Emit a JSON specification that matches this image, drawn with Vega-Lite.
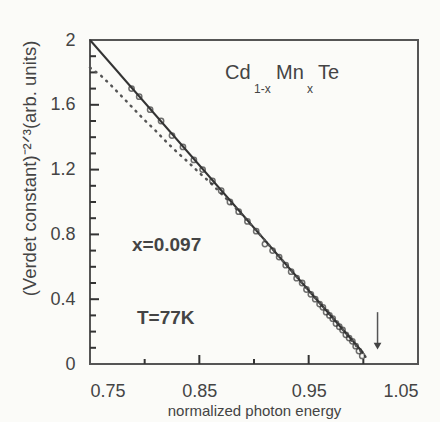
{
  "$schema": "https://vega.github.io/schema/vega-lite/v6.json",
  "autosize": "none",
  "width": 328,
  "height": 324,
  "padding": {"left": 90, "top": 40, "right": 22, "bottom": 58},
  "background": "#fbfbf8",
  "config": {
    "font": "Liberation Sans",
    "view": {"stroke": "#555", "strokeWidth": 2},
    "axis": {"domain": false, "ticks": false, "labelColor": "#444", "titleColor": "#444", "labelFontSize": 18, "titleFontSize": 15, "titleFontWeight": "normal", "grid": false}
  },
  "datasets": {
    "solid": [{"x": 0.75, "y": 2.0}, {"x": 1.0, "y": 0.068}],
    "dotted": [
      {"x": 0.75, "y": 1.83}, {"x": 0.76, "y": 1.78}, {"x": 0.77, "y": 1.715}, {"x": 0.78, "y": 1.645},
      {"x": 0.79, "y": 1.575}, {"x": 0.80, "y": 1.505}, {"x": 0.81, "y": 1.44}, {"x": 0.82, "y": 1.37},
      {"x": 0.83, "y": 1.305}, {"x": 0.84, "y": 1.245}, {"x": 0.85, "y": 1.18}, {"x": 0.86, "y": 1.12},
      {"x": 0.87, "y": 1.052}, {"x": 0.88, "y": 0.985}, {"x": 0.89, "y": 0.913}, {"x": 0.90, "y": 0.84},
      {"x": 0.92, "y": 0.686}, {"x": 0.94, "y": 0.531}, {"x": 0.96, "y": 0.377}, {"x": 0.98, "y": 0.222},
      {"x": 0.99, "y": 0.14}, {"x": 1.0, "y": 0.06}, {"x": 1.005, "y": 0.02}
    ],
    "pts": [
      {"x": 0.788, "y": 1.70}, {"x": 0.795, "y": 1.65}, {"x": 0.805, "y": 1.57}, {"x": 0.815, "y": 1.50},
      {"x": 0.825, "y": 1.41}, {"x": 0.835, "y": 1.34}, {"x": 0.845, "y": 1.26}, {"x": 0.853, "y": 1.20},
      {"x": 0.862, "y": 1.13}, {"x": 0.870, "y": 1.07}, {"x": 0.878, "y": 1.00}, {"x": 0.886, "y": 0.94},
      {"x": 0.894, "y": 0.88}, {"x": 0.902, "y": 0.82}, {"x": 0.910, "y": 0.74}, {"x": 0.917, "y": 0.70},
      {"x": 0.923, "y": 0.66}, {"x": 0.929, "y": 0.61}, {"x": 0.934, "y": 0.57}, {"x": 0.939, "y": 0.53},
      {"x": 0.944, "y": 0.50}, {"x": 0.948, "y": 0.46}, {"x": 0.952, "y": 0.43}, {"x": 0.956, "y": 0.40},
      {"x": 0.960, "y": 0.37}, {"x": 0.963, "y": 0.35}, {"x": 0.966, "y": 0.32}, {"x": 0.969, "y": 0.30},
      {"x": 0.972, "y": 0.28}, {"x": 0.975, "y": 0.25}, {"x": 0.978, "y": 0.23}, {"x": 0.981, "y": 0.21},
      {"x": 0.984, "y": 0.18}, {"x": 0.987, "y": 0.16}, {"x": 0.990, "y": 0.14}, {"x": 0.993, "y": 0.11},
      {"x": 0.996, "y": 0.08}, {"x": 0.999, "y": 0.05}
    ],
    "arrow": [{"x": 1.013, "y": 0.32, "y2": 0.12}],
    "head": [{"x": 1.013, "y": 0.11}],
    "xMajor": [{"v": 0.85}, {"v": 0.95}],
    "xMinor": [{"v": 0.80}, {"v": 0.90}, {"v": 1.00}],
    "yMajor": [{"v": 0.4}, {"v": 0.8}, {"v": 1.2}, {"v": 1.6}],
    "yMinor": [{"v": 0.1}, {"v": 0.2}, {"v": 0.3}, {"v": 0.5}, {"v": 0.6}, {"v": 0.7}, {"v": 0.9}, {"v": 1.0}, {"v": 1.1}, {"v": 1.3}, {"v": 1.4}, {"v": 1.5}, {"v": 1.7}, {"v": 1.8}, {"v": 1.9}],
    "formulaMain": [
      {"x": 0.8735, "y": 1.796, "t": "Cd"},
      {"x": 0.9201, "y": 1.796, "t": "Mn"},
      {"x": 0.9585, "y": 1.796, "t": "Te"}
    ],
    "formulaSub": [
      {"x": 0.9000, "y": 1.70, "t": "1-x"},
      {"x": 0.9485, "y": 1.70, "t": "x"}
    ],
    "notes": [
      {"x": 0.7884, "y": 0.735, "t": "x=0.097"},
      {"x": 0.793, "y": 0.284, "t": "T=77K"}
    ]
  },
  "layer": [
    {
      "data": {"name": "solid"},
      "mark": {"type": "line", "color": "#333", "strokeWidth": 2},
      "encoding": {
        "x": {"field": "x", "type": "quantitative", "scale": {"domain": [0.75, 1.05], "nice": false, "zero": false},
          "axis": {"orient": "bottom", "values": [0.75, 0.85, 0.95, 1.05], "format": ".2f",
            "labelPadding": 18, "title": "normalized photon energy", "titlePadding": 3}},
        "y": {"field": "y", "type": "quantitative", "scale": {"domain": [0, 2], "nice": false},
          "axis": {"orient": "left", "values": [0, 0.4, 0.8, 1.2, 1.6, 2], "format": "~g",
            "labelPadding": 15, "title": "(Verdet constant)⁻²ᐟ³(arb. units)",
            "titleFontSize": 18.5, "titleBaseline": "alphabetic", "titleX": -55, "titleY": 128}}
      }
    },
    {
      "data": {"name": "xMajor"},
      "mark": {"type": "tick", "orient": "vertical", "color": "#333", "thickness": 2, "size": 9, "yOffset": -4.5, "opacity": 1},
      "encoding": {"x": {"field": "v", "type": "quantitative"}, "y": {"datum": 0, "type": "quantitative"}}
    },
    {
      "data": {"name": "xMinor"},
      "mark": {"type": "tick", "orient": "vertical", "color": "#333", "thickness": 2, "size": 5, "yOffset": -2.5, "opacity": 1},
      "encoding": {"x": {"field": "v", "type": "quantitative"}, "y": {"datum": 0, "type": "quantitative"}}
    },
    {
      "data": {"name": "yMajor"},
      "mark": {"type": "tick", "orient": "horizontal", "color": "#333", "thickness": 2, "size": 9, "xOffset": 4.5, "opacity": 1},
      "encoding": {"y": {"field": "v", "type": "quantitative"}, "x": {"datum": 0.75, "type": "quantitative"}}
    },
    {
      "data": {"name": "yMinor"},
      "mark": {"type": "tick", "orient": "horizontal", "color": "#333", "thickness": 2, "size": 6, "xOffset": 3, "opacity": 1},
      "encoding": {"y": {"field": "v", "type": "quantitative"}, "x": {"datum": 0.75, "type": "quantitative"}}
    },
    {
      "data": {"name": "dotted"},
      "mark": {"type": "line", "color": "#555", "strokeWidth": 2.5, "strokeDash": [1, 6], "strokeCap": "round"},
      "encoding": {"x": {"field": "x", "type": "quantitative"}, "y": {"field": "y", "type": "quantitative"}}
    },
    {
      "data": {"name": "pts"},
      "mark": {"type": "point", "shape": "circle", "color": "#333", "size": 28, "strokeWidth": 1.5, "filled": false},
      "encoding": {"x": {"field": "x", "type": "quantitative"}, "y": {"field": "y", "type": "quantitative"}}
    },
    {
      "data": {"name": "arrow"},
      "mark": {"type": "rule", "color": "#555", "strokeWidth": 1.5},
      "encoding": {"x": {"field": "x", "type": "quantitative"}, "y": {"field": "y", "type": "quantitative"}, "y2": {"field": "y2"}}
    },
    {
      "data": {"name": "head"},
      "mark": {"type": "point", "shape": "triangle-down", "filled": true, "color": "#444", "size": 60, "opacity": 1},
      "encoding": {"x": {"field": "x", "type": "quantitative"}, "y": {"field": "y", "type": "quantitative"}}
    },
    {
      "data": {"name": "formulaMain"},
      "mark": {"type": "text", "align": "left", "baseline": "middle", "fontSize": 20, "color": "#444"},
      "encoding": {"x": {"field": "x", "type": "quantitative"}, "y": {"field": "y", "type": "quantitative"}, "text": {"field": "t"}}
    },
    {
      "data": {"name": "formulaSub"},
      "mark": {"type": "text", "align": "left", "baseline": "middle", "fontSize": 12, "color": "#444"},
      "encoding": {"x": {"field": "x", "type": "quantitative"}, "y": {"field": "y", "type": "quantitative"}, "text": {"field": "t"}}
    },
    {
      "data": {"name": "notes"},
      "mark": {"type": "text", "align": "left", "baseline": "middle", "fontSize": 19, "fontWeight": "bold", "color": "#444"},
      "encoding": {"x": {"field": "x", "type": "quantitative"}, "y": {"field": "y", "type": "quantitative"}, "text": {"field": "t"}}
    }
  ]
}
